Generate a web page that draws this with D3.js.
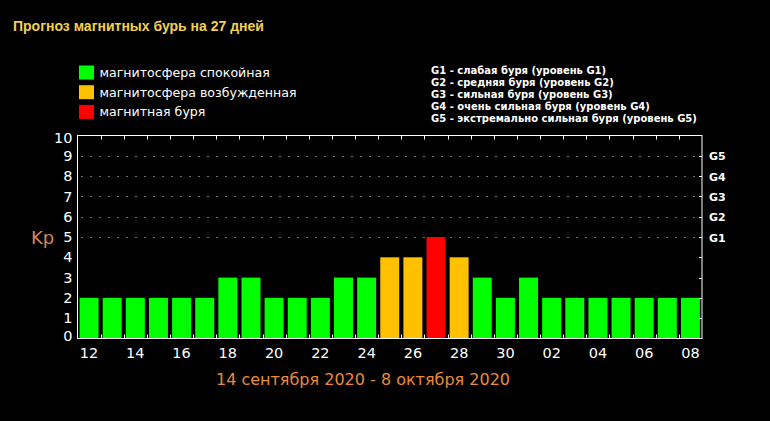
<!DOCTYPE html>
<html><head><meta charset="utf-8">
<script src="https://cdn.jsdelivr.net/npm/d3@7"></script>
<style>html,body{margin:0;padding:0;background:#000;}svg{display:block;}</style>
</head><body>
<script>
const title = "Прогноз магнитных бурь на 27 дней";
const days = ["12","13","14","15","16","17","18","19","20","21","22","23","24","25","26","27","28","29","30","01","02","03","04","05","06","07","08"];
const kp = [2,2,2,2,2,2,3,3,2,2,2,3,3,4,4,5,4,3,2,3,2,2,2,2,2,2,2];
const yTicks = [0,1,2,3,4,5,6,7,8,9,10];
const gLevels = [5,6,7,8,9];
const gLabels = ["G1","G2","G3","G4","G5"];
const legendLabels = ["магнитосфера спокойная","магнитосфера возбужденная","магнитная буря"];
const legendColors = ["#00ff00","#ffc000","#ff0000"];
const gLegend = ["G1 - слабая буря (уровень G1)","G2 - средняя буря (уровень G2)","G3 - сильная буря (уровень G3)","G4 - очень сильная буря (уровень G4)","G5 - экстремально сильная буря (уровень G5)"];
const dateRange = "14 сентября 2020 - 8 октября 2020";
const yLabel = "Kp";

const W = 770, H = 421;
const svg = d3.select("body").append("svg").attr("width", W).attr("height", H);
svg.append("rect").attr("width", W).attr("height", H).attr("fill", "#000");

const L = 77.5, R = 702, T = 135.5, B = 338.5;
const x = d3.scaleBand().domain(days).range([L, R]).paddingInner(0.18).paddingOuter(0.09);
const y = d3.scaleLinear().domain([0, 10]).range([B, T]);
const color = v => v >= 5 ? legendColors[2] : (v >= 4 ? legendColors[1] : legendColors[0]);

// title
svg.append("text").attr("x", 13).attr("y", 31).text(title)
  .attr("font-family", "Liberation Sans, Arial, sans-serif").attr("font-weight", "bold")
  .attr("font-size", 14).attr("fill", "#f2d054");

// legend
const lg = svg.append("g");
legendLabels.forEach((t, i) => {
  lg.append("rect").attr("x", 79).attr("y", 65.5 + i * 19.7).attr("width", 15).attr("height", 14).attr("fill", legendColors[i]);
  lg.append("text").attr("x", 99.5).attr("y", 77 + i * 19.7).text(t)
    .attr("font-family", "DejaVu Sans, Verdana, sans-serif").attr("font-size", 12.6).attr("fill", "#fff");
});

// G legend
gLegend.forEach((t, i) => {
  svg.append("text").attr("x", 431).attr("y", 74 + i * 11.9).text(t)
    .attr("font-family", "DejaVu Sans, Verdana, sans-serif").attr("font-weight", "bold")
    .attr("font-size", 10).attr("fill", "#fff");
});

// gridlines
svg.append("g").selectAll("line").data(gLevels).join("line")
  .attr("x1", L).attr("x2", R).attr("y1", d => Math.round(y(d)) + 0.5).attr("y2", d => Math.round(y(d)) + 0.5)
  .attr("stroke", "#ddd").attr("stroke-width", 1).attr("stroke-dasharray", "1,8").attr("stroke-dashoffset", -4);

// bars
svg.append("g").selectAll("rect").data(days).join("rect")
  .attr("x", d => x(d)).attr("width", x.bandwidth())
  .attr("y", (d, i) => y(kp[i])).attr("height", (d, i) => y(0) - y(kp[i]))
  .attr("fill", (d, i) => color(kp[i]));

// frame
svg.append("rect").attr("x", L).attr("y", T).attr("width", R - L).attr("height", B - T)
  .attr("fill", "none").attr("stroke", "#fff").attr("stroke-width", 1);

// boundary ticks top/bottom
const step = x.step();
const bounds = days.slice(1).map(d => x(d) - step * x.paddingInner() / 2);
svg.append("g").selectAll("line").data(bounds).join("line")
  .attr("x1", d => Math.round(d) + 0.5).attr("x2", d => Math.round(d) + 0.5).attr("y1", B).attr("y2", B - 4)
  .attr("stroke", "#fff");
svg.append("g").selectAll("line").data(bounds).join("line")
  .attr("x1", d => Math.round(d) + 0.5).attr("x2", d => Math.round(d) + 0.5).attr("y1", T).attr("y2", T + 4)
  .attr("stroke", "#fff");

// right inner ticks
svg.append("g").selectAll("line").data(yTicks.slice(1, 10)).join("line")
  .attr("x1", R - 3).attr("x2", R).attr("y1", d => Math.round(y(d)) + 0.5).attr("y2", d => Math.round(y(d)) + 0.5)
  .attr("stroke", "#fff");

// y labels
const yAxis = d3.axisLeft(y).tickValues(yTicks).tickSize(0).tickPadding(5).tickFormat(d3.format("d"));
const ya = svg.append("g").attr("transform", `translate(${L},0)`).call(yAxis);
ya.select(".domain").remove();
ya.selectAll("text").attr("font-family", "DejaVu Sans, Verdana, sans-serif").attr("font-size", 14.5)
  .attr("fill", "#fff").attr("dy", d => d === 0 ? "0.15em" : (d === 10 ? "0.45em" : "0.32em"));

// G labels right
svg.append("g").selectAll("text").data(gLevels).join("text")
  .attr("x", 709).attr("y", d => y(d) + 4.5).text((d, i) => gLabels[i])
  .attr("font-family", "DejaVu Sans, Verdana, sans-serif").attr("font-weight", "bold")
  .attr("font-size", 11).attr("fill", "#fff");

// x labels
const xAxis = d3.axisBottom(x).tickValues(days.filter((d, i) => i % 2 === 0)).tickSize(0).tickPadding(9);
const xa = svg.append("g").attr("transform", `translate(0,${B})`).call(xAxis);
xa.select(".domain").remove();
xa.selectAll("text").attr("font-family", "DejaVu Sans, Verdana, sans-serif").attr("font-size", 14.5).attr("fill", "#fff");

// Kp label
svg.append("text").attr("x", 31).attr("y", 244).text(yLabel)
  .attr("font-family", "DejaVu Sans, Verdana, sans-serif").attr("font-size", 18).attr("fill", "#dd8550");

// date range
svg.append("text").attr("x", 363).attr("y", 385).attr("text-anchor", "middle").text(dateRange)
  .attr("font-family", "DejaVu Sans, Verdana, sans-serif").attr("font-size", 16).attr("fill", "#ea8a3c");
</script>
</body></html>
